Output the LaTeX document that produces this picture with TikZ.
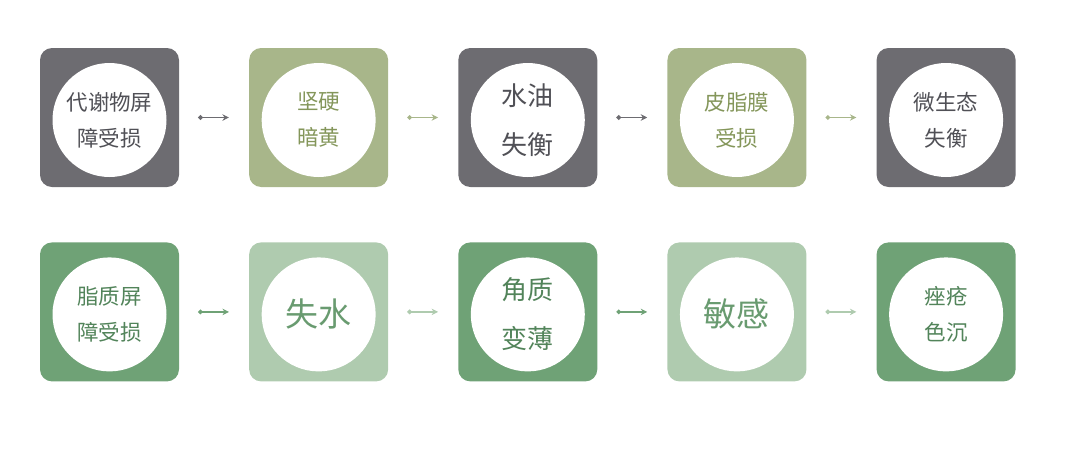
\documentclass[tikz,border=0pt]{standalone}
\usepackage{fontspec}
\newfontfamily\cjk{Noto Sans CJK SC}
\usepackage{xcolor}
\definecolor{slate}{RGB}{109,108,113}
\definecolor{sage}{RGB}{168,182,138}
\definecolor{moss}{RGB}{111,162,118}
\definecolor{mint}{RGB}{175,203,175}
\definecolor{slateink}{RGB}{80,80,86}
\definecolor{sageink}{RGB}{132,150,90}
\definecolor{mossink}{RGB}{82,132,90}
\definecolor{mintink}{RGB}{105,155,112}
\usepackage{tikz}
\usetikzlibrary{arrows.meta,positioning}

\begin{document}
\begin{tikzpicture}[
      x=1pt, y=-1pt,
      node distance=69.75pt,
      box/.style={rounded corners=12pt, minimum size=139pt, inner sep=0pt},
      disc/.style={circle, fill=white, minimum size=114pt, inner sep=0pt,
                   align=center},
      small/.style={font=\cjk\fontsize{21.5}{36}\selectfont},
      mid/.style={font=\cjk\fontsize{26}{49}\selectfont},
      big/.style={font=\cjk\fontsize{33}{40}\selectfont},
      arrow/.style={{Circle[length=4.5pt]}-{Stealth[length=6.5pt,width=6.5pt]},
                    line width=1.6pt}
  ]
  \useasboundingbox (0,0) rectangle (1080,448);

  % top row
  \node[box, fill=slate] (a1) at (109.5,117.5) {};
  \node[box, fill=sage, right=of a1] (a2) {};
  \node[box, fill=slate, right=of a2] (a3) {};
  \node[box, fill=sage, right=of a3] (a4) {};
  \node[box, fill=slate, right=of a4] (a5) {};

  \node[disc, small, text=slateink] (c1) at ([yshift=-2.5pt]a1.center) {代谢物屏\\障受损};
  \node[disc, small, text=sageink] (c2) at ([yshift=-2.5pt]a2.center) {坚硬\\暗黄};
  \node[disc, mid, text=slateink] (c3) at ([yshift=-2.5pt]a3.center) {水油\\失衡};
  \node[disc, small, text=sageink] (c4) at ([yshift=-2.5pt]a4.center) {皮脂膜\\受损};
  \node[disc, small, text=slateink] (c5) at ([yshift=-2.5pt]a5.center) {微生态\\失衡};

  % bottom row
  \node[box, fill=moss, below=55pt of a1] (b1) {};
  \node[box, fill=mint, right=of b1] (b2) {};
  \node[box, fill=moss, right=of b2] (b3) {};
  \node[box, fill=mint, right=of b3] (b4) {};
  \node[box, fill=moss, right=of b4] (b5) {};

  \node[disc, small, text=mossink] (d1) at ([yshift=-2.5pt]b1.center) {脂质屏\\障受损};
  \node[disc, big, text=mintink] (d2) at ([yshift=-2.5pt]b2.center) {失水};
  \node[disc, mid, text=mossink] (d3) at ([yshift=-2.5pt]b3.center) {角质\\变薄};
  \node[disc, big, text=mintink] (d4) at ([yshift=-2.5pt]b4.center) {敏感};
  \node[disc, small, text=mossink] (d5) at ([yshift=-2.5pt]b5.center) {痤疮\\色沉};

  \draw[arrow, slate] ([xshift=19pt]a1.east) -- ([xshift=-20pt]a2.west);
  \draw[arrow, sage] ([xshift=19pt]a2.east) -- ([xshift=-20pt]a3.west);
  \draw[arrow, slate] ([xshift=19pt]a3.east) -- ([xshift=-20pt]a4.west);
  \draw[arrow, sage] ([xshift=19pt]a4.east) -- ([xshift=-20pt]a5.west);

  \draw[arrow, moss] ([xshift=19pt]b1.east) -- ([xshift=-20pt]b2.west);
  \draw[arrow, mint] ([xshift=19pt]b2.east) -- ([xshift=-20pt]b3.west);
  \draw[arrow, moss] ([xshift=19pt]b3.east) -- ([xshift=-20pt]b4.west);
  \draw[arrow, mint] ([xshift=19pt]b4.east) -- ([xshift=-20pt]b5.west);
  \end{tikzpicture}
\end{document}
